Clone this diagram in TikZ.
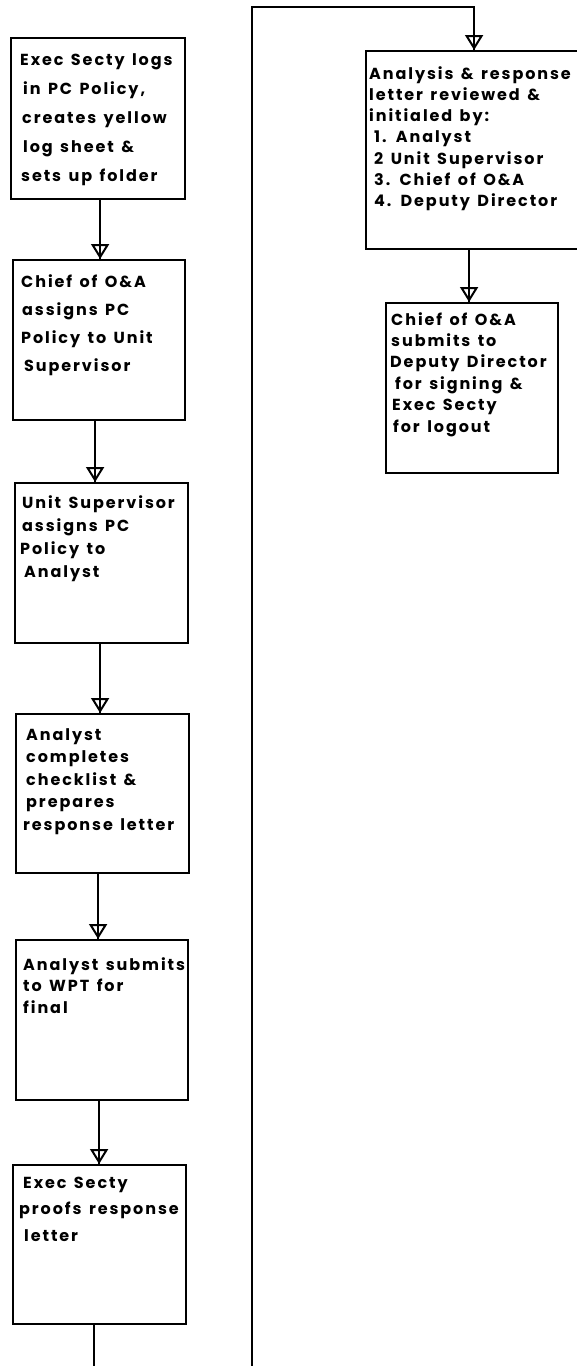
\documentclass[tikz,border=0pt]{standalone}
\usepackage{fontspec}
\setmainfont{Poppins}[LetterSpace=12, WordSpace=1.4]
\usetikzlibrary{arrows.meta}

% stacked lines of a box text; #1 = line pitch
\newcommand\boxlines[2]{{\fontsize{16}{#1}\selectfont\begin{tabular}[t]{@{}l@{}}#2\end{tabular}}}

\tikzset{
  box/.style={draw, line width=2.2pt, rectangle, anchor=north west, inner sep=0pt},
  txt/.style={anchor=base west, inner sep=0pt, font=\bfseries},
  flow/.style={line width=2.4pt,
    -{Triangle[open, width=18pt, length=15pt, line width=2pt]},
    postaction={draw, -}}
}

\begin{document}
\begin{tikzpicture}[x=1pt, y=-1pt]
\useasboundingbox (0,0) rectangle (577,1366);
\clip (0,0) rectangle (577,1366);

% left column of steps
\node[box, minimum width=174pt, minimum height=161pt] (b1) at (10,37) {};
\node[box, minimum width=172pt, minimum height=160pt] (b2) at (12,259) {};
\node[box, minimum width=173pt, minimum height=160pt] (b3) at (14,482) {};
\node[box, minimum width=173pt, minimum height=159pt] (b4) at (15,713) {};
\node[box, minimum width=172pt, minimum height=160pt] (b5) at (15,939) {};
\node[box, minimum width=173pt, minimum height=159pt] (b6) at (12,1164) {};
% right column of steps
\node[box, minimum width=214pt, minimum height=198pt] (b7) at (365,50) {};
\node[box, minimum width=172pt, minimum height=170pt] (b8) at (385,302) {};

\node[txt] (t1) at (20,65) {\boxlines{29pt}{Exec Secty logs\\
  \hspace*{3pt}in PC Policy,\\
  \hspace*{2pt}creates yellow\\
  \hspace*{3pt}log sheet \&\\
  \hspace*{1pt}sets up folder}};
\node[txt] (t2) at (21,287) {\boxlines{28pt}{Chief of O\&A\\
  \hspace*{1pt}assigns PC\\
  Policy to Unit\\
  \hspace*{3pt}Supervisor}};
\node[txt] (t3) at (22,508) {\boxlines{23.3pt}{Unit Supervisor\\
  assigns PC\\
  \hspace*{-2pt}Policy to\\
  \hspace*{2pt}Analyst}};
\node[txt] (t4) at (26,740) {\boxlines{22.5pt}{Analyst\\
  completes\\
  checklist \&\\
  prepares\\
  \hspace*{-3pt}response letter}};
\node[txt] (t5) at (23,970) {\boxlines{21.5pt}{Analyst submits\\
  to WPT for\\
  final}};
\node[txt] (t6) at (23,1188) {\boxlines{26.5pt}{Exec Secty\\
  \hspace*{-4pt}proofs response\\
  \hspace*{1pt}letter}};
\node[txt] (t7) at (369,79) {\boxlines{21.3pt}{Analysis \& response\\
  letter reviewed \&\\
  initialed by:\\
  \hspace*{5pt}1. Analyst\\
  \hspace*{5pt}2 Unit Supervisor\\
  \hspace*{5pt}3. Chief of O\&A\\
  \hspace*{5pt}4. Deputy Director}};
\node[txt] (t8) at (391,325) {\boxlines{21.4pt}{Chief of O\&A\\
  submits to\\
  \hspace*{-1pt}Deputy Director\\
  \hspace*{4pt}for signing \&\\
  \hspace*{1pt}Exec Secty\\
  \hspace*{2pt}for logout}};

% downward flow
\draw[flow] ([xshift=2pt]b1.south) -- ([xshift=1pt]b2.north);
\draw[flow] ([xshift=-4pt]b2.south) -- ([xshift=-6.5pt]b3.north);
\draw[flow] ([xshift=-1.5pt]b3.south) -- ([xshift=-2.5pt]b4.north);
\draw[flow] ([xshift=-4.5pt]b4.south) -- ([xshift=-4pt]b5.north);
\draw[flow] ([xshift=-3pt]b5.south) -- ([xshift=-0.5pt]b6.north);

% loop back to the top of the right column
\coordinate (loopBottom) at (252,1367);
\coordinate (loopTop) at (252,7);
\draw[flow] ([xshift=-5.5pt]b6.south) |- (loopBottom) -- (loopTop)
  -| ([xshift=1pt]b7.north);
\draw[flow] ([xshift=-4pt]b7.south) -- ([xshift=-3pt]b8.north);
\end{tikzpicture}
\end{document}
